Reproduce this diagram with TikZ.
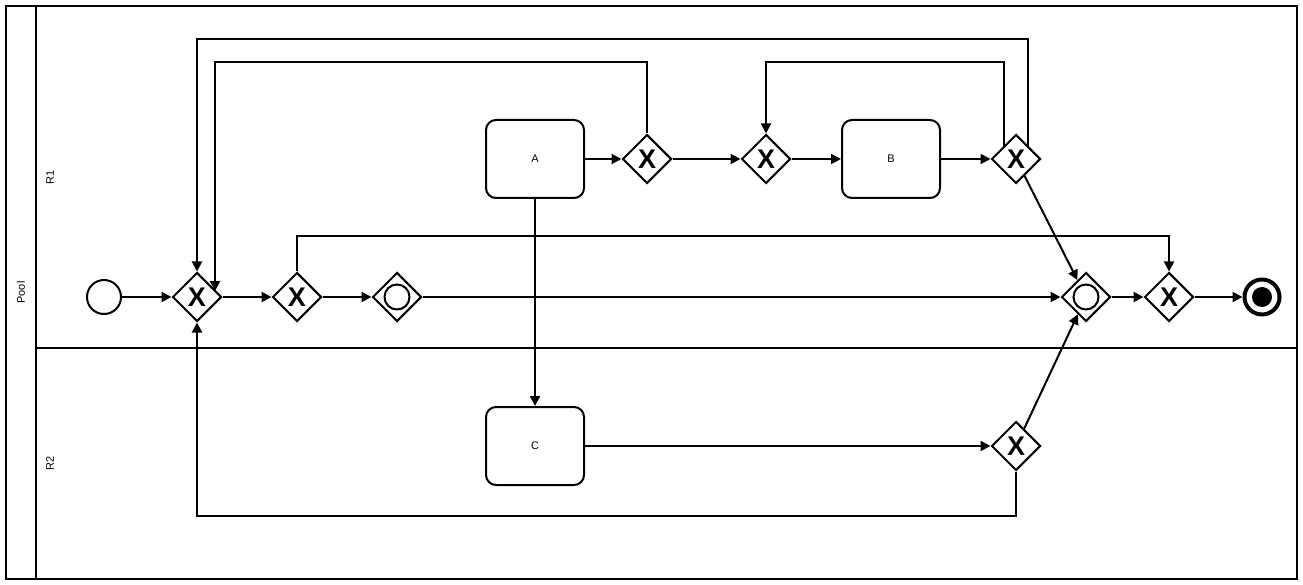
\documentclass[tikz,border=0pt]{standalone}
\usepackage{fontspec}
\setmainfont{Liberation Sans}
\usetikzlibrary{shapes.geometric,arrows.meta,calc}
\begin{document}
\begin{tikzpicture}[x=1pt,y=-1pt,line width=2pt,
  lbl/.style={font=\fontsize{11}{13}\selectfont},
  task/.style={draw,rounded corners=10pt,minimum width=98pt,minimum height=78pt,inner sep=0pt,lbl},
  xgw/.style={draw,diamond,minimum width=49pt,minimum height=49pt,inner sep=0pt,fill=white,font=\fontsize{27}{27}\selectfont\bfseries},
  ogw/.style={draw,diamond,minimum width=49pt,minimum height=49pt,inner sep=0pt,fill=white,
    path picture={\draw[line width=2pt] (path picture bounding box.center) circle[radius=12.5pt];}},
  flow/.style={-{Triangle[length=10pt,width=10pt]}}]
\useasboundingbox (0,0) rectangle (1303,585);
% pool and lanes
\draw (6,6) rectangle (1297,579);
\draw (36,6) -- (36,579);
\draw (36,348) -- (1297,348);
\node[lbl,rotate=90] (pool) at (21,292.5) {Pool};
\node[lbl,rotate=90] (r1) at (50,177) {R1};
\node[lbl,rotate=90] (r2) at (50,463) {R2};
% helper rows
\coordinate (top1) at (0,39);
\coordinate (top2) at (0,62);
% nodes
\node[circle,draw,minimum size=34pt,inner sep=0pt] (start) at (104,297) {};
\node[xgw] (g1) at (197,297) {X};
\node[xgw] (g2) at (297,297) {X};
\node[ogw] (g3) at (397,297) {};
\node[task] (a) at (535,159) {A};
\node[xgw] (g4) at (647,159) {X};
\node[xgw] (g5) at (766,159) {X};
\node[task] (b) at (891,159) {B};
\node[xgw] (g6) at (1016,159) {X};
\node[ogw] (g7) at (1086,297) {};
\node[xgw] (g8) at (1169,297) {X};
\node[circle,draw,line width=4pt,minimum size=35pt,inner sep=0pt,
  path picture={\fill (path picture bounding box.center) circle[radius=10pt];}] (end) at (1262,297) {};
\node[task] (c) at (535,446) {C};
\node[xgw] (g9) at (1016,446) {X};
% flows
\draw[flow] (start) -- (g1);
\draw[flow] (g1) -- (g2);
\draw[flow] (g2) -- (g3);
\draw[flow] (g3) -- (g7);
\draw[flow] (g7) -- (g8);
\draw[flow] (g8) -- (end);
\draw[flow] (g2.north) -- ++(0,-35) -| (g8.north);
\draw[flow] (a) -- (g4);
\draw[flow] (g4) -- (g5);
\draw[flow] (g5) -- (b);
\draw[flow] (b) -- (g6);
\draw[flow] (a) -- (c);
\draw[flow] (c) -- (g9);
\draw[flow] (g6) -- (g7);
\draw[flow] (g9) -- (g7);
\coordinate (g1ne) at ($(g1.center)+(18,-6)$);
\draw[flow] (g4.north) -- (g4.north |- top2) -| (g1ne);
\coordinate (g6l) at ($(g6.center)+(-12,-12)$);
\coordinate (g6r) at ($(g6.center)+(12,-12)$);
\draw[flow] (g6l) -- (g6l |- top2) -| (g5.north);
\draw[flow] (g6r) -- (g6r |- top1) -| (g1.north);
\draw[flow] (g9.south) -- ++(0,44) -| (g1.south);
\end{tikzpicture}
\end{document}
